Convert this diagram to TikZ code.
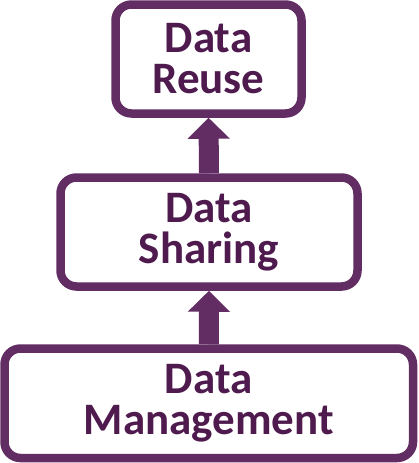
\documentclass[tikz,border=0pt]{standalone}
\usepackage{fontspec}
\setmainfont{Carlito}
\usetikzlibrary{arrows.meta}
\definecolor{boxpurple}{HTML}{612D63}
\definecolor{textpurple}{HTML}{4F1B4F}
\tikzset{
  stagebox/.style={draw=boxpurple, line width=8.5pt, rounded corners=16pt, fill=white,
    inner sep=0pt, rectangle, text=textpurple,
    font=\bfseries\fontsize{45}{41}\selectfont, align=center},
  uparrow/.style={draw=boxpurple, line width=20pt,
    -{Triangle[width=41pt,length=21pt]}}
}
\begin{document}
\begin{tikzpicture}[x=1pt,y=-1pt]
\useasboundingbox (0,0) rectangle (418,463);
\node[stagebox, minimum width=186pt, minimum height=109pt] (reuse) at (208.5,59) {Data\\Reuse};
\node[stagebox, minimum width=297pt, minimum height=109pt] (sharing) at (209,232) {Data\\Sharing};
\node[stagebox, minimum width=408.5pt, minimum height=109.5pt] (mgmt) at (208.75,403.25) {Data\\Management};
\draw[uparrow] (sharing.north) -- (reuse.south);
\draw[uparrow] (mgmt.north) -- (sharing.south);
\end{tikzpicture}
\end{document}
